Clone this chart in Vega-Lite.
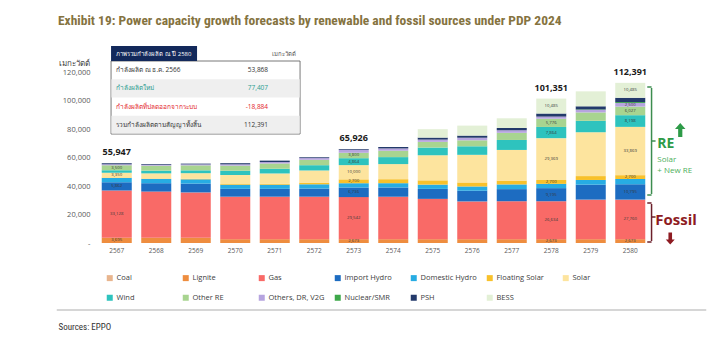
{
  "$schema": "https://vega.github.io/schema/vega-lite/v6.json",
  "width": 553,
  "height": 171,
  "autosize": {"type": "none"},
  "padding": {"left": 97, "top": 72, "right": 70, "bottom": 109},
  "background": "white",
  "config": {
    "view": {"stroke": null},
    "font": "Open Sans",
    "axisY": {"labelOverlap": false},
    "legend": {
      "orient": "none", "legendX": 9, "legendY": 202, "columns": 7, "direction": "horizontal",
      "gridAlign": "all", "columnPadding": 9, "rowPadding": 11, "symbolType": "square",
      "symbolSize": 36, "symbolStrokeWidth": 0, "labelFontSize": 7.5, "labelColor": "#404040",
      "labelFont": "Open Sans", "labelOffset": 3, "labelLimit": 0, "padding": 0
    }
  },
  "title": {
    "text": "Exhibit 19:  Power capacity growth forecasts by renewable and fossil sources under PDP 2024",
    "anchor": "start", "frame": "group", "dx": -39, "offset": 19,
    "font": "Liberation Sans Narrow, Roboto Condensed, Liberation Sans", "fontSize": 13.5, "fontWeight": "bold", "color": "#85733F"
  },
  "datasets": {
    "cap": [
      {"year": "2567", "type": "Lignite", "mw": 3695, "label": "3,695"},
      {"year": "2567", "type": "Gas", "mw": 33128, "label": "33,128"},
      {"year": "2567", "type": "Import Hydro", "mw": 5862, "label": "5,862"},
      {"year": "2567", "type": "Domestic Hydro", "mw": 3000},
      {"year": "2567", "type": "Floating Solar", "mw": 200},
      {"year": "2567", "type": "Solar", "mw": 3350, "label": "3,350"},
      {"year": "2567", "type": "Wind", "mw": 1800},
      {"year": "2567", "type": "Other RE", "mw": 3500, "label": "3,500"},
      {"year": "2567", "type": "Others, DR, V2G", "mw": 700},
      {"year": "2567", "type": "PSH", "mw": 712},

      {"year": "2568", "type": "Lignite", "mw": 3695},
      {"year": "2568", "type": "Gas", "mw": 32400},
      {"year": "2568", "type": "Import Hydro", "mw": 5862},
      {"year": "2568", "type": "Domestic Hydro", "mw": 3000},
      {"year": "2568", "type": "Floating Solar", "mw": 300},
      {"year": "2568", "type": "Solar", "mw": 3600},
      {"year": "2568", "type": "Wind", "mw": 1900},
      {"year": "2568", "type": "Other RE", "mw": 3500},
      {"year": "2568", "type": "Others, DR, V2G", "mw": 700},
      {"year": "2568", "type": "PSH", "mw": 500},

      {"year": "2569", "type": "Lignite", "mw": 3695},
      {"year": "2569", "type": "Gas", "mw": 31800},
      {"year": "2569", "type": "Import Hydro", "mw": 6200},
      {"year": "2569", "type": "Domestic Hydro", "mw": 3000},
      {"year": "2569", "type": "Floating Solar", "mw": 400},
      {"year": "2569", "type": "Solar", "mw": 3900},
      {"year": "2569", "type": "Wind", "mw": 2000},
      {"year": "2569", "type": "Other RE", "mw": 3500},
      {"year": "2569", "type": "Others, DR, V2G", "mw": 700},
      {"year": "2569", "type": "PSH", "mw": 500},

      {"year": "2570", "type": "Lignite", "mw": 2673},
      {"year": "2570", "type": "Gas", "mw": 29827},
      {"year": "2570", "type": "Import Hydro", "mw": 5500},
      {"year": "2570", "type": "Domestic Hydro", "mw": 2900},
      {"year": "2570", "type": "Floating Solar", "mw": 500},
      {"year": "2570", "type": "Solar", "mw": 6300},
      {"year": "2570", "type": "Wind", "mw": 3000},
      {"year": "2570", "type": "Other RE", "mw": 3600},
      {"year": "2570", "type": "Others, DR, V2G", "mw": 900},
      {"year": "2570", "type": "PSH", "mw": 800},

      {"year": "2571", "type": "Lignite", "mw": 2673},
      {"year": "2571", "type": "Gas", "mw": 29827},
      {"year": "2571", "type": "Import Hydro", "mw": 5500},
      {"year": "2571", "type": "Domestic Hydro", "mw": 2900},
      {"year": "2571", "type": "Floating Solar", "mw": 600},
      {"year": "2571", "type": "Solar", "mw": 7300},
      {"year": "2571", "type": "Wind", "mw": 3300},
      {"year": "2571", "type": "Other RE", "mw": 3700},
      {"year": "2571", "type": "Others, DR, V2G", "mw": 1000},
      {"year": "2571", "type": "PSH", "mw": 1000},

      {"year": "2572", "type": "Lignite", "mw": 2673},
      {"year": "2572", "type": "Gas", "mw": 29827},
      {"year": "2572", "type": "Import Hydro", "mw": 5700},
      {"year": "2572", "type": "Domestic Hydro", "mw": 3000},
      {"year": "2572", "type": "Floating Solar", "mw": 1200},
      {"year": "2572", "type": "Solar", "mw": 8500},
      {"year": "2572", "type": "Wind", "mw": 3700},
      {"year": "2572", "type": "Other RE", "mw": 3800},
      {"year": "2572", "type": "Others, DR, V2G", "mw": 1200},
      {"year": "2572", "type": "PSH", "mw": 550},

      {"year": "2573", "type": "Lignite", "mw": 2673, "label": "2,673"},
      {"year": "2573", "type": "Gas", "mw": 29542, "label": "29,542"},
      {"year": "2573", "type": "Import Hydro", "mw": 6736, "label": "6,736"},
      {"year": "2573", "type": "Domestic Hydro", "mw": 3000},
      {"year": "2573", "type": "Floating Solar", "mw": 2700, "label": "2,700"},
      {"year": "2573", "type": "Solar", "mw": 10000, "label": "10,000"},
      {"year": "2573", "type": "Wind", "mw": 4864, "label": "4,864"},
      {"year": "2573", "type": "Other RE", "mw": 3800, "label": "3,800"},
      {"year": "2573", "type": "Others, DR, V2G", "mw": 2100},
      {"year": "2573", "type": "PSH", "mw": 511},

      {"year": "2574", "type": "Lignite", "mw": 2673},
      {"year": "2574", "type": "Gas", "mw": 29800},
      {"year": "2574", "type": "Import Hydro", "mw": 6500},
      {"year": "2574", "type": "Domestic Hydro", "mw": 3000},
      {"year": "2574", "type": "Floating Solar", "mw": 2800},
      {"year": "2574", "type": "Solar", "mw": 10600},
      {"year": "2574", "type": "Wind", "mw": 4900},
      {"year": "2574", "type": "Other RE", "mw": 4500},
      {"year": "2574", "type": "Others, DR, V2G", "mw": 1600},
      {"year": "2574", "type": "PSH", "mw": 1000},

      {"year": "2575", "type": "Lignite", "mw": 2673},
      {"year": "2575", "type": "Gas", "mw": 28300},
      {"year": "2575", "type": "Import Hydro", "mw": 7000},
      {"year": "2575", "type": "Domestic Hydro", "mw": 3000},
      {"year": "2575", "type": "Floating Solar", "mw": 3000},
      {"year": "2575", "type": "Solar", "mw": 17600},
      {"year": "2575", "type": "Wind", "mw": 5400},
      {"year": "2575", "type": "Other RE", "mw": 4000},
      {"year": "2575", "type": "Others, DR, V2G", "mw": 1600},
      {"year": "2575", "type": "PSH", "mw": 1400},
      {"year": "2575", "type": "BESS", "mw": 5900},

      {"year": "2576", "type": "Lignite", "mw": 2673},
      {"year": "2576", "type": "Gas", "mw": 26500},
      {"year": "2576", "type": "Import Hydro", "mw": 7500},
      {"year": "2576", "type": "Domestic Hydro", "mw": 3000},
      {"year": "2576", "type": "Floating Solar", "mw": 2800},
      {"year": "2576", "type": "Solar", "mw": 19400},
      {"year": "2576", "type": "Wind", "mw": 6000},
      {"year": "2576", "type": "Other RE", "mw": 4200},
      {"year": "2576", "type": "Others, DR, V2G", "mw": 1800},
      {"year": "2576", "type": "PSH", "mw": 1500},
      {"year": "2576", "type": "BESS", "mw": 7000},

      {"year": "2577", "type": "Lignite", "mw": 2673},
      {"year": "2577", "type": "Gas", "mw": 26634},
      {"year": "2577", "type": "Import Hydro", "mw": 8500},
      {"year": "2577", "type": "Domestic Hydro", "mw": 3300},
      {"year": "2577", "type": "Floating Solar", "mw": 2700},
      {"year": "2577", "type": "Solar", "mw": 21500},
      {"year": "2577", "type": "Wind", "mw": 7000},
      {"year": "2577", "type": "Other RE", "mw": 5000},
      {"year": "2577", "type": "Others, DR, V2G", "mw": 1800},
      {"year": "2577", "type": "PSH", "mw": 1600},
      {"year": "2577", "type": "BESS", "mw": 6800},

      {"year": "2578", "type": "Lignite", "mw": 2673, "label": "2,673"},
      {"year": "2578", "type": "Gas", "mw": 26634, "label": "26,634"},
      {"year": "2578", "type": "Import Hydro", "mw": 9195, "label": "9,195"},
      {"year": "2578", "type": "Domestic Hydro", "mw": 3000},
      {"year": "2578", "type": "Floating Solar", "mw": 2700, "label": "2,700"},
      {"year": "2578", "type": "Solar", "mw": 29369, "label": "29,369"},
      {"year": "2578", "type": "Wind", "mw": 7864, "label": "7,864"},
      {"year": "2578", "type": "Other RE", "mw": 5776, "label": "5,776"},
      {"year": "2578", "type": "Others, DR, V2G", "mw": 1500},
      {"year": "2578", "type": "PSH", "mw": 2155},
      {"year": "2578", "type": "BESS", "mw": 10485, "label": "10,485"},

      {"year": "2579", "type": "Lignite", "mw": 2673},
      {"year": "2579", "type": "Gas", "mw": 27760},
      {"year": "2579", "type": "Import Hydro", "mw": 10500},
      {"year": "2579", "type": "Domestic Hydro", "mw": 3300},
      {"year": "2579", "type": "Floating Solar", "mw": 2700},
      {"year": "2579", "type": "Solar", "mw": 30800},
      {"year": "2579", "type": "Wind", "mw": 8000},
      {"year": "2579", "type": "Other RE", "mw": 5900},
      {"year": "2579", "type": "Others, DR, V2G", "mw": 1800},
      {"year": "2579", "type": "Nuclear/SMR", "mw": 300},
      {"year": "2579", "type": "PSH", "mw": 2200},
      {"year": "2579", "type": "BESS", "mw": 10485},

      {"year": "2580", "type": "Lignite", "mw": 2673, "label": "2,673"},
      {"year": "2580", "type": "Gas", "mw": 27760, "label": "27,760"},
      {"year": "2580", "type": "Import Hydro", "mw": 10795, "label": "10,795"},
      {"year": "2580", "type": "Domestic Hydro", "mw": 3700},
      {"year": "2580", "type": "Floating Solar", "mw": 2700, "label": "2,700"},
      {"year": "2580", "type": "Solar", "mw": 33869, "label": "33,869"},
      {"year": "2580", "type": "Wind", "mw": 8198, "label": "8,198"},
      {"year": "2580", "type": "Other RE", "mw": 6027, "label": "6,027"},
      {"year": "2580", "type": "Others, DR, V2G", "mw": 2500, "label": "2,500"},
      {"year": "2580", "type": "Nuclear/SMR", "mw": 684},
      {"year": "2580", "type": "PSH", "mw": 3000},
      {"year": "2580", "type": "BESS", "mw": 10485, "label": "10,485"}
    ],
    "tot": [
      {"year": "2567", "total": 55947},
      {"year": "2573", "total": 65926},
      {"year": "2578", "total": 101351},
      {"year": "2580", "total": 112391}
    ],
    "tab": [
      {"item": "กำลังผลิต ณ ธ.ค. 2566", "amount": "53,868"},
      {"item": "กำลังผลิตใหม่", "amount": "77,407"},
      {"item": "กำลังผลิตที่ปลดออกจากระบบ", "amount": "-18,884"},
      {"item": "รวมกำลังผลิตตามสัญญาทั้งสิ้น", "amount": "112,391"}
    ]
  },
  "layer": [
    {
      "data": {"name": "cap"},
      "transform": [{"calculate": "indexof(['Coal','Lignite','Gas','Import Hydro','Domestic Hydro','Floating Solar','Solar','Wind','Other RE','Others, DR, V2G','Nuclear/SMR','PSH','BESS'], datum.type)", "as": "k"}],
      "mark": {"type": "bar"},
      "encoding": {
        "x": {
          "field": "year", "type": "ordinal",
          "scale": {"paddingInner": 0.24, "paddingOuter": 0.12},
          "axis": {
            "title": "Sources: EPPO", "titleX": -39, "titleY": 83, "titleAlign": "left", "titleBaseline": "middle",
            "titleFont": "Liberation Sans Narrow, Roboto Condensed, Liberation Sans", "titleFontSize": 9, "titleFontWeight": "normal", "titleColor": "#333333",
            "labelAngle": 0, "labelFontSize": 6.5, "labelColor": "#595959", "labelPadding": 4,
            "domain": false, "ticks": false
          }
        },
        "y": {
          "field": "mw", "type": "quantitative", "stack": "zero",
          "scale": {"domain": [0, 120000], "nice": false},
          "axis": {
            "title": "เมกะวัตต์", "titleAngle": 0, "titleX": -39, "titleY": -9, "titleAlign": "left", "titleBaseline": "middle",
            "titleFontSize": 8, "titleFontWeight": "normal", "titleColor": "#404040",
            "tickCount": 6,
            "labelExpr": "datum.value == 0 ? '-' : format(datum.value, ',')",
            "labelOverlap": false,
            "labelFontSize": 7.5, "labelColor": "#595959", "labelPadding": 7,
            "grid": false, "domain": false, "ticks": false
          }
        },
        "color": {
          "field": "type", "type": "nominal",
          "scale": {
            "domain": ["Coal", "Lignite", "Gas", "Import Hydro", "Domestic Hydro", "Floating Solar", "Solar", "Wind", "Other RE", "Others, DR, V2G", "Nuclear/SMR", "PSH", "BESS"],
            "range": ["#E8B58E", "#EE8D3F", "#F96A67", "#1D6CC1", "#27ACE3", "#F8C12B", "#FDE49E", "#2EC3BE", "#A8D490", "#B6A4DF", "#3EA84A", "#233A6B", "#E3F0D6"]
          },
          "legend": {"title": null}
        },
        "order": {"field": "k", "type": "quantitative"}
      }
    },
    {
      "data": {"name": "cap"},
      "transform": [{"calculate": "indexof(['Coal','Lignite','Gas','Import Hydro','Domestic Hydro','Floating Solar','Solar','Wind','Other RE','Others, DR, V2G','Nuclear/SMR','PSH','BESS'], datum.type)", "as": "k"}],
      "mark": {"type": "text", "fontSize": 4.3, "color": "#3A3A3A", "baseline": "middle"},
      "encoding": {
        "x": {"field": "year", "type": "ordinal"},
        "y": {"field": "mw", "type": "quantitative", "stack": "zero", "bandPosition": 0.5, "axis": {"labelOverlap": false}},
        "detail": {"field": "type"},
        "order": {"field": "k", "type": "quantitative"},
        "text": {"condition": {"test": "isValid(datum.label)", "field": "label", "type": "nominal"}, "value": ""}
      }
    },
    {
      "data": {"name": "tot"},
      "mark": {"type": "text", "fontWeight": "bold", "fontSize": 9, "baseline": "bottom", "dy": -6, "color": "#1A1A1A"},
      "encoding": {
        "x": {"field": "year", "type": "ordinal"},
        "y": {"field": "total", "type": "quantitative", "axis": {"labelOverlap": false}},
        "text": {"field": "total", "type": "quantitative", "format": ","}
      }
    },
    {
      "data": {"values": [{}]},
      "mark": {"type": "rect", "fill": "white", "stroke": "#555555", "strokeWidth": 0.8, "xOffset": -5.7, "x2Offset": 25.3},
      "encoding": {
        "x": {"datum": "2567", "type": "ordinal"}, "x2": {"datum": "2571"},
        "y": {"datum": 127718, "type": "quantitative", "axis": {"labelOverlap": false}}, "y2": {"datum": 76491}
      }
    },
    {
      "data": {"values": [{}]},
      "mark": {"type": "rect", "fill": "#EFEFEF", "xOffset": -5.3, "x2Offset": 24.9},
      "encoding": {
        "x": {"datum": "2567", "type": "ordinal"}, "x2": {"datum": "2571"},
        "y": {"datum": 114912, "type": "quantitative", "axis": {"labelOverlap": false}}, "y2": {"datum": 102104}
      }
    },
    {
      "data": {"values": [{}]},
      "mark": {"type": "rect", "fill": "#EFEFEF", "xOffset": -5.3, "x2Offset": 24.9},
      "encoding": {
        "x": {"datum": "2567", "type": "ordinal"}, "x2": {"datum": "2571"},
        "y": {"datum": 89298, "type": "quantitative", "axis": {"labelOverlap": false}}, "y2": {"datum": 76900}
      }
    },
    {
      "data": {"values": [{}]},
      "mark": {"type": "rect", "fill": "#13295B", "xOffset": -5.7, "x2Offset": 1.3},
      "encoding": {
        "x": {"datum": "2567", "type": "ordinal"}, "x2": {"datum": "2569"},
        "y": {"datum": 138245, "type": "quantitative", "axis": {"labelOverlap": false}}, "y2": {"datum": 127718}
      }
    },
    {
      "data": {"values": [{}]},
      "mark": {"type": "text", "text": "ภาพรวมกำลังผลิต ณ ปี 2580", "align": "left", "baseline": "middle", "fontSize": 6, "color": "white", "dx": -0.7},
      "encoding": {"x": {"datum": "2567", "type": "ordinal"}, "y": {"datum": 132981, "type": "quantitative", "axis": {"labelOverlap": false}}}
    },
    {
      "data": {"values": [{}]},
      "mark": {"type": "text", "text": "เมกะวัตต์", "align": "right", "baseline": "middle", "fontSize": 6, "color": "#555555", "dx": 21},
      "encoding": {"x": {"datum": "2571", "type": "ordinal"}, "y": {"datum": 132631, "type": "quantitative", "axis": {"labelOverlap": false}}}
    },
    {
      "data": {"name": "tab"},
      "transform": [{"filter": "datum.item == 'กำลังผลิต ณ ธ.ค. 2566'"}],
      "encoding": {"y": {"datum": 121403, "type": "quantitative", "axis": {"labelOverlap": false}}},
      "layer": [
        {"mark": {"type": "text", "align": "left", "baseline": "middle", "fontSize": 6.5, "color": "#333333", "dx": -0.7}, "encoding": {"x": {"datum": "2567", "type": "ordinal"}, "text": {"field": "item"}}},
        {"mark": {"type": "text", "align": "right", "baseline": "middle", "fontSize": 6.5, "color": "#333333", "dx": -6.7}, "encoding": {"x": {"datum": "2571", "type": "ordinal"}, "text": {"field": "amount"}}}
      ]
    },
    {
      "data": {"name": "tab"},
      "transform": [{"filter": "datum.item == 'กำลังผลิตใหม่'"}],
      "encoding": {"y": {"datum": 108490, "type": "quantitative", "axis": {"labelOverlap": false}}},
      "layer": [
        {"mark": {"type": "text", "align": "left", "baseline": "middle", "fontSize": 6.5, "color": "#2A9D8F", "dx": -0.7}, "encoding": {"x": {"datum": "2567", "type": "ordinal"}, "text": {"field": "item"}}},
        {"mark": {"type": "text", "align": "right", "baseline": "middle", "fontSize": 6.5, "color": "#2A9D8F", "dx": -6.7}, "encoding": {"x": {"datum": "2571", "type": "ordinal"}, "text": {"field": "amount"}}}
      ]
    },
    {
      "data": {"name": "tab"},
      "transform": [{"filter": "datum.item == 'กำลังผลิตที่ปลดออกจากระบบ'"}],
      "encoding": {"y": {"datum": 95719, "type": "quantitative", "axis": {"labelOverlap": false}}},
      "layer": [
        {"mark": {"type": "text", "align": "left", "baseline": "middle", "fontSize": 6.5, "color": "#E3262B", "dx": -0.7}, "encoding": {"x": {"datum": "2567", "type": "ordinal"}, "text": {"field": "item"}}},
        {"mark": {"type": "text", "align": "right", "baseline": "middle", "fontSize": 6.5, "color": "#E3262B", "dx": -6.7}, "encoding": {"x": {"datum": "2571", "type": "ordinal"}, "text": {"field": "amount"}}}
      ]
    },
    {
      "data": {"name": "tab"},
      "transform": [{"filter": "datum.item == 'รวมกำลังผลิตตามสัญญาทั้งสิ้น'"}],
      "encoding": {"y": {"datum": 82807, "type": "quantitative", "axis": {"labelOverlap": false}}},
      "layer": [
        {"mark": {"type": "text", "align": "left", "baseline": "middle", "fontSize": 6.5, "color": "#333333", "dx": -0.7}, "encoding": {"x": {"datum": "2567", "type": "ordinal"}, "text": {"field": "item"}}},
        {"mark": {"type": "text", "align": "right", "baseline": "middle", "fontSize": 6.5, "color": "#333333", "dx": -6.7}, "encoding": {"x": {"datum": "2571", "type": "ordinal"}, "text": {"field": "amount"}}}
      ]
    },
    {
      "data": {"values": [{}]},
      "mark": {"type": "rule", "color": "#C8C8C8", "strokeWidth": 1.5, "xOffset": -60, "x2Offset": 76},
      "encoding": {"x": {"datum": "2567", "type": "ordinal"}, "x2": {"datum": "2580"}, "y": {"datum": -47000, "type": "quantitative", "axis": {"labelOverlap": false}}}
    },
    {
      "data": {"values": [{}]},
      "mark": {"type": "rule", "color": "#3C8D4F", "strokeWidth": 1.5, "xOffset": 21.3},
      "encoding": {"x": {"datum": "2580", "type": "ordinal"}, "y": {"datum": 108771, "type": "quantitative", "axis": {"labelOverlap": false}}, "y2": {"datum": 34386}}
    },
    {
      "data": {"values": [{}]},
      "mark": {"type": "rule", "color": "#3C8D4F", "strokeWidth": 1.5, "xOffset": 17, "x2Offset": 21.3},
      "encoding": {"x": {"datum": "2580", "type": "ordinal"}, "x2": {"datum": "2580"}, "y": {"datum": 109473, "type": "quantitative", "axis": {"labelOverlap": false}}}
    },
    {
      "data": {"values": [{}]},
      "mark": {"type": "rule", "color": "#3C8D4F", "strokeWidth": 1.5, "xOffset": 17, "x2Offset": 21.3},
      "encoding": {"x": {"datum": "2580", "type": "ordinal"}, "x2": {"datum": "2580"}, "y": {"datum": 33684, "type": "quantitative", "axis": {"labelOverlap": false}}}
    },
    {
      "data": {"values": [{}]},
      "mark": {"type": "rule", "color": "#3C8D4F", "strokeWidth": 1.5, "xOffset": 21.3, "x2Offset": 25.3},
      "encoding": {"x": {"datum": "2580", "type": "ordinal"}, "x2": {"datum": "2580"}, "y": {"datum": 71579, "type": "quantitative", "axis": {"labelOverlap": false}}}
    },
    {
      "data": {"values": [{}]},
      "mark": {"type": "rule", "color": "#6B1F2A", "strokeWidth": 1.5, "xOffset": 21.3},
      "encoding": {"x": {"datum": "2580", "type": "ordinal"}, "y": {"datum": 27369, "type": "quantitative", "axis": {"labelOverlap": false}}, "y2": {"datum": 1400}}
    },
    {
      "data": {"values": [{}]},
      "mark": {"type": "rule", "color": "#6B1F2A", "strokeWidth": 1.5, "xOffset": 17, "x2Offset": 21.3},
      "encoding": {"x": {"datum": "2580", "type": "ordinal"}, "x2": {"datum": "2580"}, "y": {"datum": 28070, "type": "quantitative", "axis": {"labelOverlap": false}}}
    },
    {
      "data": {"values": [{}]},
      "mark": {"type": "rule", "color": "#6B1F2A", "strokeWidth": 1.5, "xOffset": 17, "x2Offset": 21.3},
      "encoding": {"x": {"datum": "2580", "type": "ordinal"}, "x2": {"datum": "2580"}, "y": {"datum": 700, "type": "quantitative", "axis": {"labelOverlap": false}}}
    },
    {
      "data": {"values": [{}]},
      "mark": {"type": "rule", "color": "#6B1F2A", "strokeWidth": 1.5, "xOffset": 21.3, "x2Offset": 25.3},
      "encoding": {"x": {"datum": "2580", "type": "ordinal"}, "x2": {"datum": "2580"}, "y": {"datum": 18246, "type": "quantitative", "axis": {"labelOverlap": false}}}
    },
    {
      "data": {"values": [{}]},
      "mark": {"type": "point", "filled": true, "color": "#2E9B48", "opacity": 1, "size": 196, "xOffset": 50,
               "shape": "M0,-1L0.75,-0.15L0.3,-0.15L0.3,1L-0.3,1L-0.3,-0.15L-0.75,-0.15Z"},
      "encoding": {"x": {"datum": "2580", "type": "ordinal"}, "y": {"datum": 79298, "type": "quantitative", "axis": {"labelOverlap": false}}}
    },
    {
      "data": {"values": [{}]},
      "mark": {"type": "point", "filled": true, "color": "#8E1B22", "opacity": 1, "size": 144, "xOffset": 40,
               "shape": "M0,1L0.75,0.15L0.3,0.15L0.3,-1L-0.3,-1L-0.3,0.15L-0.75,0.15Z"},
      "encoding": {"x": {"datum": "2580", "type": "ordinal"}, "y": {"datum": 3158, "type": "quantitative", "axis": {"labelOverlap": false}}}
    },
    {
      "data": {"values": [{}]},
      "mark": {"type": "text", "text": "RE", "align": "left", "baseline": "middle", "fontSize": 14, "fontWeight": "bold", "color": "#2E9B48", "dx": 27},
      "encoding": {"x": {"datum": "2580", "type": "ordinal"}, "y": {"datum": 69824, "type": "quantitative", "axis": {"labelOverlap": false}}}
    },
    {
      "data": {"values": [{}]},
      "mark": {"type": "text", "text": "Solar", "align": "left", "baseline": "middle", "fontSize": 8, "color": "#4DAF5B", "dx": 27},
      "encoding": {"x": {"datum": "2580", "type": "ordinal"}, "y": {"datum": 58245, "type": "quantitative", "axis": {"labelOverlap": false}}}
    },
    {
      "data": {"values": [{}]},
      "mark": {"type": "text", "text": "+ New RE", "align": "left", "baseline": "middle", "fontSize": 8, "color": "#4DAF5B", "dx": 27},
      "encoding": {"x": {"datum": "2580", "type": "ordinal"}, "y": {"datum": 50526, "type": "quantitative", "axis": {"labelOverlap": false}}}
    },
    {
      "data": {"values": [{}]},
      "mark": {"type": "text", "text": "Fossil", "align": "left", "baseline": "middle", "fontSize": 15, "fontWeight": "bold", "color": "#8E1B22", "dx": 25},
      "encoding": {"x": {"datum": "2580", "type": "ordinal"}, "y": {"datum": 16140, "type": "quantitative", "axis": {"labelOverlap": false}}}
    }
  ]
}
